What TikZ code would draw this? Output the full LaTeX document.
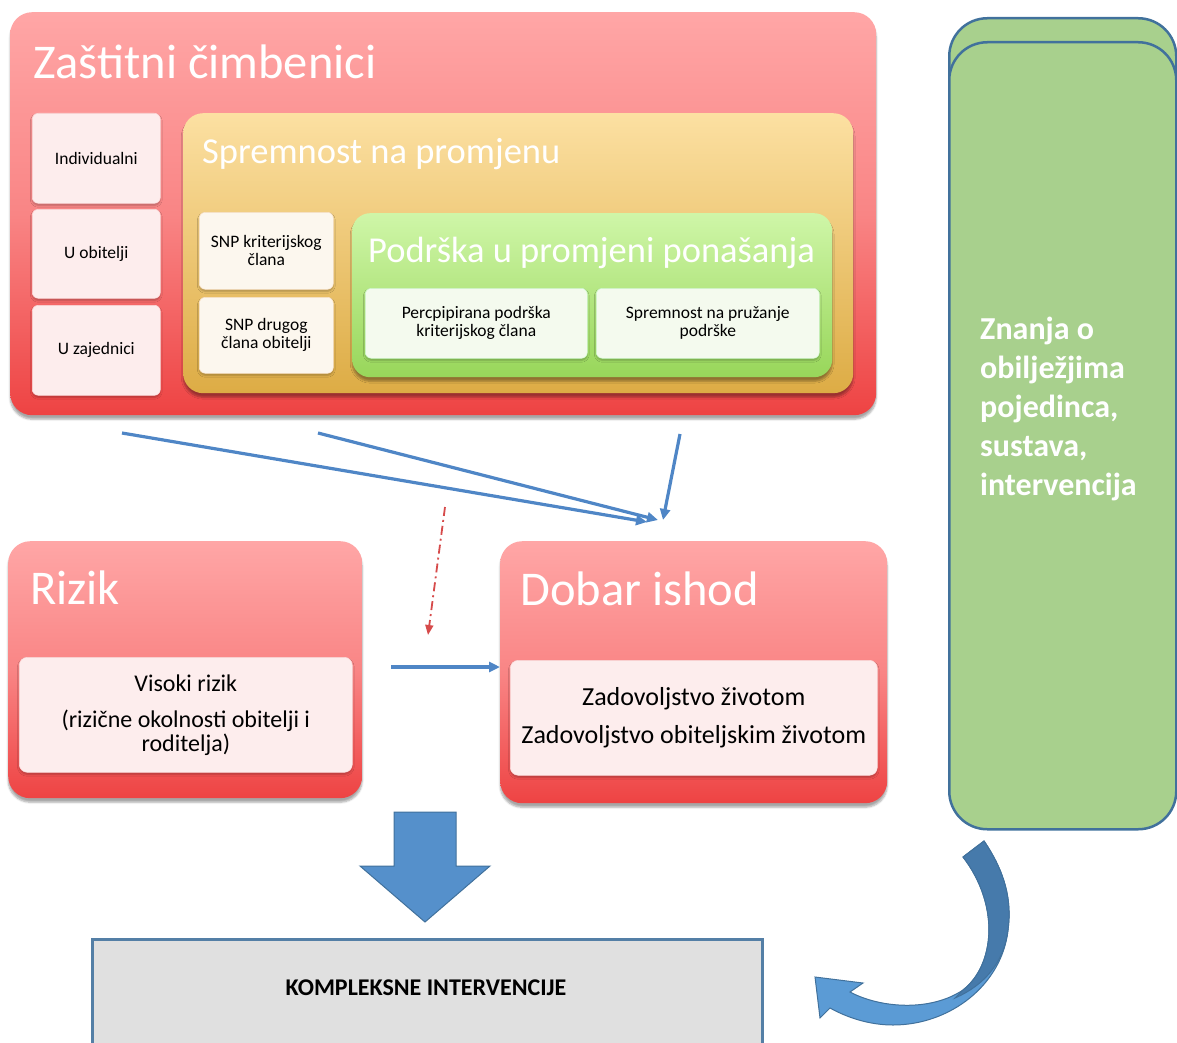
\documentclass[tikz,border=0pt]{standalone}
\usepackage{fontspec}
\setmainfont{Carlito}
\usetikzlibrary{shadows.blur,arrows.meta}
\definecolor{redtop}{HTML}{FFA6A6}
\definecolor{redmid}{HTML}{F98585}
\definecolor{redbot}{HTML}{EE4343}
\definecolor{ortop}{HTML}{FCE0A2}
\definecolor{orbot}{HTML}{DDAC45}
\definecolor{grtop}{HTML}{CFF6A8}
\definecolor{grbot}{HTML}{98D65A}
\definecolor{pinkfill}{HTML}{FDEDED}
\definecolor{creamfill}{HTML}{FCF7EE}
\definecolor{mintfill}{HTML}{F4FAEE}
\definecolor{arrowblue}{HTML}{4F86C6}
\definecolor{blockblue}{HTML}{5590CB}
\definecolor{edgeblue}{HTML}{41719C}
\definecolor{sidegreen}{HTML}{A8D08D}
\definecolor{dashred}{HTML}{D64B4B}
\definecolor{curvedark}{HTML}{467AAB}
\definecolor{curvelight}{HTML}{5B9BD5}
\definecolor{greyfill}{HTML}{E0E0E0}
\tikzset{
  softshadow/.style={blur shadow={shadow xshift=0pt, shadow yshift=-4pt, shadow opacity=35, shadow blur steps=6}},
  lightshadow/.style={blur shadow={shadow xshift=0pt, shadow yshift=-2pt, shadow opacity=25, shadow blur steps=4}},
  redbox/.style={rounded corners=22pt, top color=redtop, bottom color=redbot, middle color=redmid, inner sep=0pt, softshadow},
  orangebox/.style={rounded corners=20pt, top color=ortop, bottom color=orbot, inner sep=0pt, softshadow},
  greenbox/.style={rounded corners=18pt, top color=grtop, bottom color=grbot, inner sep=0pt, softshadow},
  smallbox/.style={rounded corners=6pt, inner sep=2pt, align=center, font=\fontsize{17.5}{18}\selectfont, lightshadow},
  pinkbox/.style={smallbox, fill=pinkfill, draw=pinkfill!80!red!60!white, line width=0.6pt},
  creambox/.style={smallbox, fill=creamfill, draw=creamfill!85!orange, line width=0.6pt},
  mintbox/.style={smallbox, fill=mintfill, draw=mintfill!85!green, line width=0.6pt},
  innerbox/.style={rounded corners=8pt, fill=pinkfill, draw=pinkfill!80!red!60!white, line width=0.6pt, align=center, inner sep=2pt, lightshadow},
  bigtitle/.style={text=white, font=\fontsize{48.5}{50}\selectfont, anchor=base west, inner sep=0pt},
  midtitle/.style={text=white, font=\fontsize{36.5}{40}\selectfont, anchor=base west, inner sep=0pt},
  bluearrow/.style={draw=arrowblue, line width=3.2pt, -{Triangle[length=11pt,width=10pt]}},
  sidebox/.style={rounded corners=38pt, fill=sidegreen, draw=edgeblue, line width=2.5pt, inner sep=0pt},
}
\begin{document}
\begin{tikzpicture}[x=1pt,y=-1pt]
\useasboundingbox (0,0) rectangle (1177,1043);

% Zastitni cimbenici
\node[redbox, minimum width=866pt, minimum height=403pt, anchor=north west] (zc) at (10,12) {};
\node[bigtitle] (zct) at (33,79) {Zaštitni čimbenici};

\node[pinkbox, minimum width=128pt, minimum height=90pt, anchor=north west] (ind) at (32,113) {Individualni};
\node[pinkbox, minimum width=128pt, minimum height=89pt, anchor=north west] (obi) at (32,209) {U obitelji};
\node[pinkbox, minimum width=128pt, minimum height=90pt, anchor=north west] (zaj) at (32,305) {U zajednici};

\node[orangebox, minimum width=670pt, minimum height=280pt, anchor=north west] (spr) at (183,113) {};
\node[midtitle] (sprt) at (202,164) {Spremnost na promjenu};

\node[creambox, minimum width=134pt, minimum height=77pt, anchor=north west] (snp1) at (199,212) {SNP kriterijskog\\člana};
\node[creambox, minimum width=134pt, minimum height=76pt, anchor=north west] (snp2) at (199,297) {SNP drugog\\člana obitelji};

\node[greenbox, minimum width=480pt, minimum height=164pt, anchor=north west] (pod) at (352,213) {};
\node[midtitle] (podt) at (368,262) {Podrška u promjeni ponašanja};

\node[mintbox, minimum width=222pt, minimum height=70pt, anchor=north west] (perc) at (365,288) {Percpipirana podrška\\kriterijskog člana};
\node[mintbox, minimum width=223pt, minimum height=70pt, anchor=north west] (sprp) at (596,288) {Spremnost na pružanje\\podrške};

% Rizik
\node[redbox, minimum width=354pt, minimum height=257pt, anchor=north west] (riz) at (8,541) {};
\node[bigtitle] (rizt) at (30,604) {Rizik};
\node[innerbox, minimum width=333pt, minimum height=115pt, anchor=north west, font=\fontsize{24}{24}\selectfont] (rizin) at (19,657) {Visoki rizik\\[12pt](rizične okolnosti obitelji i\\roditelja)};

% Dobar ishod
\node[redbox, minimum width=387pt, minimum height=262pt, anchor=north west] (dob) at (500,541) {};
\node[bigtitle] (dobt) at (520,605) {Dobar ishod};
\node[innerbox, minimum width=367pt, minimum height=115pt, anchor=north west, font=\fontsize{26}{25}\selectfont] (dobin) at (510,660) {Zadovoljstvo životom\\[13pt]Zadovoljstvo obiteljskim životom};

% side green box
\node[sidebox, minimum width=227pt, minimum height=760pt, anchor=north west] (sideb) at (948,17) {};
\node[sidebox, minimum width=227pt, minimum height=787pt, anchor=north west] (side) at (948,41) {};
\node[text=white, font=\bfseries\fontsize{32}{39}\selectfont, align=left, anchor=west, inner sep=0pt] (sidet) at (980,409) {Znanja o\\obilježjima\\pojedinca,\\sustava,\\intervencija};

% Kompleksne intervencije
\node[fill=greyfill, draw=edgeblue!90!white, line width=2.5pt, minimum width=670pt, minimum height=130pt, anchor=north west, inner sep=0pt] (komp) at (91,938) {};
\node[font=\bfseries\fontsize{24}{24}\selectfont, inner sep=0pt] (kompt) at (426,988) {KOMPLEKSNE INTERVENCIJE};

% blue arrows from protective factors
\coordinate (a1s) at (122,433);
\coordinate (a1e) at (647,522);
\coordinate (a2s) at (318,433);
\coordinate (a2e) at (658,520);
\coordinate (a3s) at (680,434);
\coordinate (a3e) at (663,520);
\draw[bluearrow] (a1s) -- (a1e);
\draw[bluearrow] (a2s) -- (a2e);
\draw[bluearrow] (a3s) -- (a3e);

% risk to outcome
\coordinate (hs) at (391,667);
\draw[bluearrow] (hs) -- (hs -| dob.west);

% red dash-dot
\coordinate (rs) at (445,507);
\coordinate (re) at (428,635);
\draw[draw=dashred, line width=1.8pt, dash pattern=on 9pt off 4pt on 2pt off 4pt, -{Triangle[length=10pt,width=8pt]}] (rs) -- (re);

% block arrow down
\path[fill=blockblue, draw=edgeblue, line width=1pt] (394,812) -- (456,812) -- (456,866) -- (490,866) -- (425,922) -- (360,866) -- (394,866) -- cycle;

% curved arrow
\path[fill=curvelight, draw=edgeblue, line width=1pt]
  (963,857) -- (984,841) .. controls (1005,872) and (1012,900) .. (1008,930)
  .. controls (1002,985) and (950,1025) .. (893,1025)
  .. controls (870,1025) and (848,1018) .. (830,1008)
  -- (820,1018) -- (815,977) -- (863,983) -- (850,992)
  .. controls (880,1008) and (930,1012) .. (963,990)
  .. controls (995,965) and (1000,905) .. (963,857) -- cycle;
\path[fill=curvedark, draw=edgeblue, line width=1pt]
  (963,857) -- (984,841) .. controls (1005,872) and (1012,900) .. (1008,930)
  .. controls (1004,962) and (985,985) .. (955,998)
  -- (963,990)
  .. controls (995,965) and (1000,905) .. (963,857) -- cycle;
\end{tikzpicture}
\end{document}
